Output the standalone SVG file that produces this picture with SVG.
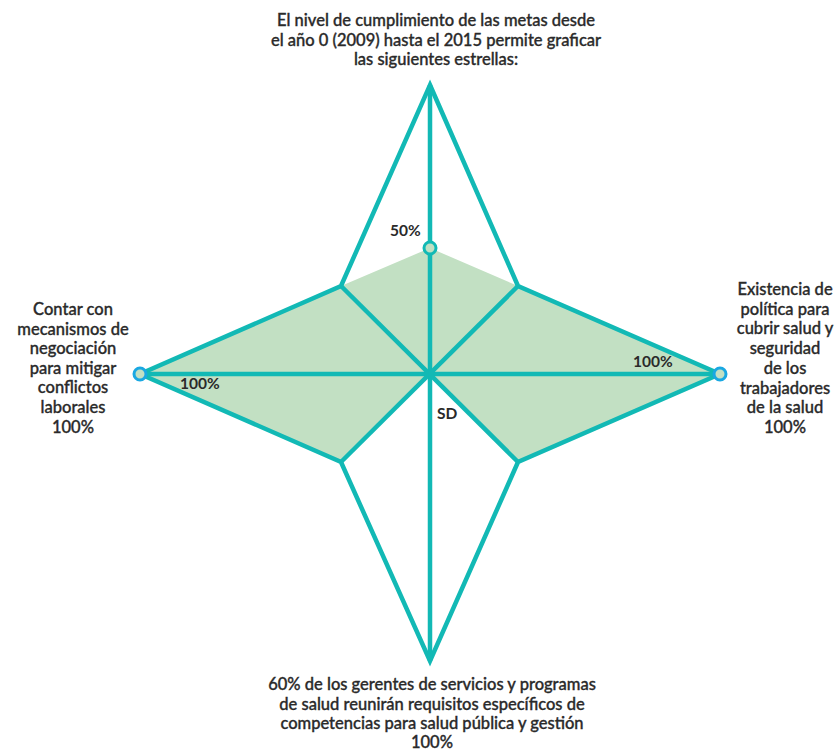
<svg xmlns="http://www.w3.org/2000/svg" width="840" height="752" viewBox="0 0 840 752">
<style>
.lbl{font-family:Lato,"Noto Sans","Liberation Sans",sans-serif;font-size:16.5px;font-weight:500;fill:#2a2a2a;stroke:#2a2a2a;stroke-width:0.35;text-anchor:middle}
.val{font-family:Lato,"Noto Sans","Liberation Sans",sans-serif;font-size:15.5px;font-weight:700;fill:#2a2a2a}
.ln{fill:none;stroke:#12b9b5;stroke-width:4.5;stroke-linejoin:miter;stroke-miterlimit:20}
</style>
<rect width="840" height="752" fill="#ffffff"/>
<g id="area">
<polygon points="430,248 518,286 720,374 518,462 430,374 341,462 140,374 341,286" fill="#c2e0c3"/>
</g>
<g id="connectors">
<polygon class="ln" points="430,85 518,286 720,374 518,462 430,661 341,462 140,374 341,286"/>
<line class="ln" x1="430" y1="85" x2="430" y2="661"/>
<line class="ln" x1="140" y1="374" x2="720" y2="374"/>
<line class="ln" x1="341" y1="286" x2="518" y2="462"/>
<line class="ln" x1="518" y1="286" x2="341" y2="462"/>
</g>
<g id="node-top">
<circle cx="430" cy="248" r="6" fill="#c2e0c3" stroke="#12b9b5" stroke-width="3"/>
<text class="val" x="390" y="236">50%</text>
<text class="lbl" x="436" y="26">El nivel de cumplimiento de las metas desde</text>
<text class="lbl" x="436" y="45.5">el año 0 (2009) hasta el 2015 permite graficar</text>
<text class="lbl" x="436" y="65">las siguientes estrellas:</text>
</g>
<g id="node-right">
<circle cx="720" cy="374" r="6" fill="#c2e0c3" stroke="#1aa8e2" stroke-width="3"/>
<text class="val" x="633" y="367">100%</text>
<text class="lbl" x="785" y="295">Existencia de</text>
<text class="lbl" x="785" y="314.7">política para</text>
<text class="lbl" x="785" y="334.4">cubrir salud y</text>
<text class="lbl" x="785" y="354.1">seguridad</text>
<text class="lbl" x="785" y="373.8">de los</text>
<text class="lbl" x="785" y="393.5">trabajadores</text>
<text class="lbl" x="785" y="413.2">de la salud</text>
<text class="lbl" x="785" y="433">100%</text>
</g>
<g id="node-bottom">
<text class="val" x="437" y="419">SD</text>
<text class="lbl" x="432" y="690">60% de los gerentes de servicios y programas</text>
<text class="lbl" x="432" y="709.5">de salud reunirán requisitos específicos de</text>
<text class="lbl" x="432" y="729">competencias para salud pública y gestión</text>
<text class="lbl" x="432" y="748">100%</text>
</g>
<g id="node-left">
<circle cx="140" cy="374" r="6" fill="#c2e0c3" stroke="#1aa8e2" stroke-width="3"/>
<text class="val" x="180" y="389">100%</text>
<text class="lbl" x="73" y="315">Contar con</text>
<text class="lbl" x="73" y="334.5">mecanismos de</text>
<text class="lbl" x="73" y="354">negociación</text>
<text class="lbl" x="73" y="373.5">para mitigar</text>
<text class="lbl" x="73" y="393">conflictos</text>
<text class="lbl" x="73" y="412.5">laborales</text>
<text class="lbl" x="73" y="432.5">100%</text>
</g>
</svg>
